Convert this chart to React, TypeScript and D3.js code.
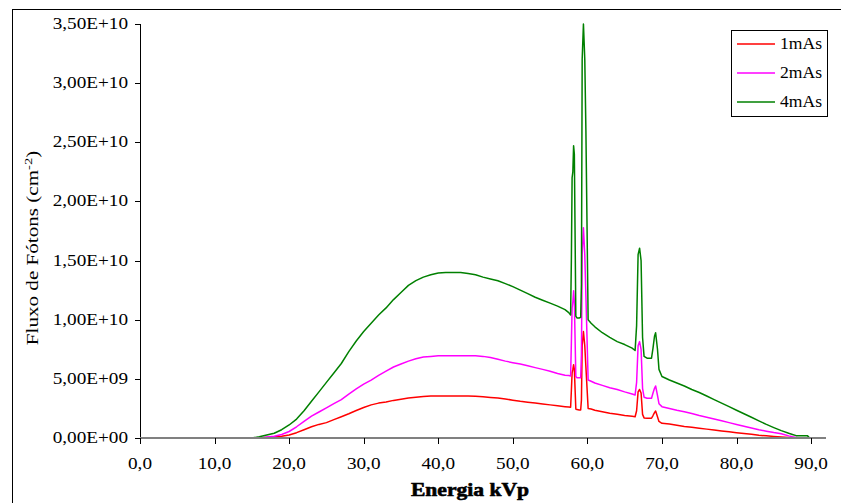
import React from "react";
import * as d3 from "d3";

const energies = [15,16,17,18,19,20,21,22,23,24,25,26,27,28,29,30,31,32,33,34,35,36,37,38,39,40,41,42,43,44,45,46,47,48,49,50,51,52,53,54,55,56,57,
  57.5,57.75,57.85,57.95,58.05,58.15,58.25,58.45,58.6,58.9,
  59.1,59.2,59.3,59.47,59.65,59.8,60.1,60.5,
  61,62,63,64,65,66,
  66.4,66.6,66.8,67.0,67.2,67.4,67.6,
  68,68.6,68.8,69.0,69.15,69.4,69.6,
  70,71,72,73,74,75,76,77,78,79,80,81,82,83,84,85,86,87,
  87.5,88,88.5,89,89.5,89.8];

// values in units of 1E10 photons/cm2
const flux4mAs = [0,0.01,0.025,0.04,0.07,0.11,0.16,0.23,0.31,0.39,0.47,0.55,0.63,0.73,0.82,0.90,0.97,1.04,1.10,1.17,1.23,1.29,1.33,1.36,1.38,1.395,1.40,1.40,1.40,1.39,1.38,1.36,1.345,1.33,1.305,1.28,1.25,1.22,1.19,1.165,1.14,1.115,1.085,
  1.06,1.04,1.5,2.2,2.25,2.47,2.4,1.03,1.015,1.015,
  1.02,1.3,3.2,3.5,3.2,2.6,1.0,0.97,
  0.94,0.89,0.85,0.815,0.79,0.76,
  0.74,0.95,1.55,1.605,1.5,0.85,0.69,
  0.675,0.675,0.76,0.86,0.89,0.75,0.58,
  0.52,0.49,0.465,0.44,0.41,0.385,0.355,0.325,0.295,0.265,0.235,0.205,0.175,0.145,0.115,0.088,0.062,0.04,
  0.03,0.02,0.02,0.02,0.02,0];

const flux2mAs = [null,0,0.008,0.015,0.03,0.055,0.095,0.14,0.185,0.22,0.255,0.29,0.325,0.37,0.415,0.455,0.49,0.53,0.565,0.6,0.625,0.65,0.67,0.685,0.69,0.695,0.695,0.695,0.695,0.695,0.695,0.69,0.68,0.665,0.65,0.637,0.625,0.61,0.595,0.58,0.565,0.545,0.53,
  0.528,0.525,0.8,1.1,1.15,1.245,1.15,0.52,0.51,0.51,
  0.51,0.7,1.55,1.777,1.55,1.2,0.49,0.48,
  0.465,0.445,0.425,0.41,0.39,0.372,
  0.364,0.47,0.78,0.815,0.75,0.42,0.345,
  0.336,0.336,0.38,0.42,0.44,0.36,0.29,
  0.265,0.25,0.235,0.222,0.207,0.19,0.175,0.16,0.145,0.13,0.115,0.1,0.085,0.07,0.058,0.046,0.036,0.018,
  0.01,0.005,0,null,null,null];

const flux1mAs = [null,0,0.004,0.008,0.015,0.025,0.045,0.07,0.095,0.115,0.13,0.155,0.18,0.205,0.232,0.258,0.28,0.295,0.305,0.318,0.328,0.338,0.345,0.35,0.355,0.355,0.355,0.355,0.355,0.355,0.352,0.348,0.343,0.338,0.33,0.32,0.31,0.302,0.295,0.288,0.28,0.272,0.265,
  0.262,0.26,0.4,0.55,0.58,0.62,0.58,0.245,0.24,0.237,
  0.237,0.32,0.78,0.9,0.78,0.6,0.25,0.245,
  0.235,0.222,0.21,0.2,0.19,0.183,
  0.18,0.23,0.39,0.41,0.38,0.2,0.17,
  0.167,0.167,0.19,0.215,0.228,0.18,0.14,
  0.124,0.118,0.108,0.098,0.09,0.083,0.075,0.068,0.06,0.052,0.045,0.038,0.032,0.024,0.018,0.013,0.009,0.005,
  0.002,0,null,null,null,null];

const seriesNames = ["1mAs", "2mAs", "4mAs"];
const seriesColors = ["#FF0000", "#FF00FF", "#008000"];
const seriesValues = [flux1mAs, flux2mAs, flux4mAs];

const xTicks = [0, 10, 20, 30, 40, 50, 60, 70, 80, 90];
const yTicks = [0, 0.5e10, 1e10, 1.5e10, 2e10, 2.5e10, 3e10, 3.5e10];
const yTickLabels = ["0,00E+00", "5,00E+09", "1,00E+10", "1,50E+10", "2,00E+10", "2,50E+10", "3,00E+10", "3,50E+10"];
const xTickLabels = ["0,0", "10,0", "20,0", "30,0", "40,0", "50,0", "60,0", "70,0", "80,0", "90,0"];

const W = 841, H = 503;
const FONT = "'Liberation Serif', 'Times New Roman', serif";
const SX = 1.2;

function SText({ x, y, anchor = "start", size = 16, rotate = 0, sx = SX, weight = "normal", children, stroke }: any) {
  return (
    <text
      transform={`translate(${x},${y})${rotate ? ` rotate(${rotate})` : ""} scale(${sx},1)`}
      textAnchor={anchor}
      fontFamily={FONT}
      fontSize={size}
      fontWeight={weight}
      fill="#000"
      stroke={stroke}
      strokeWidth={stroke ? 0.6 : 0}
    >
      {children}
    </text>
  );
}

export default function App() {
  const x = d3.scaleLinear().domain([0, 92]).range([140, 826]);
  const y = d3.scaleLinear().domain([0, 3.5e10]).range([438, 24]);

  const makeLine = (vals: (number | null)[]) =>
    d3.line<number>()
      .defined((_, i) => vals[i] !== null)
      .x((_, i) => x(energies[i]))
      .y((_, i) => y((vals[i] as number) * 1e10))(energies as any) || "";

  const legendY = [44, 73, 102];

  return (
    <svg width={W} height={H} style={{ position: "absolute", left: 0, top: 0, background: "#fff" }}>
      <rect x={0} y={0} width={W} height={H} fill="#fff" />
      <line x1={12.5} y1={9} x2={12.5} y2={H} stroke="#000" strokeWidth={1} />
      <line x1={12} y1={9.5} x2={W} y2={9.5} stroke="#000" strokeWidth={1} />

      <line x1={140.5} y1={y(3.5e10)} x2={140.5} y2={y(0)} stroke="#000" strokeWidth={1} />
      {yTicks.map((t, i) => (
        <g key={"yt" + i}>
          <line x1={135} x2={140} y1={Math.round(y(t)) + 0.5} y2={Math.round(y(t)) + 0.5} stroke="#000" />
          <SText x={128} y={y(t) + 5} anchor="end">{yTickLabels[i]}</SText>
        </g>
      ))}

      {seriesValues.map((vals, i) => (
        <path key={"s" + i} d={makeLine(vals)} fill="none" stroke={seriesColors[i]} strokeWidth={1.5} strokeLinejoin="round" />
      ))}

      <line x1={140} y1={438} x2={826} y2={438} stroke="#808080" strokeWidth={2} />
      {xTicks.map((t, i) => (
        <g key={"xt" + i}>
          <line x1={Math.round(x(t)) + 0.5} x2={Math.round(x(t)) + 0.5} y1={438} y2={444} stroke="#000" />
          <SText x={x(t)} y={469} anchor="middle">{xTickLabels[i]}</SText>
        </g>
      ))}

      <SText x={470} y={496} anchor="middle" size={18} weight="bold" stroke="#000">Energia kVp</SText>
      <text
        transform={`translate(38,248) rotate(-90) scale(1.32,1)`}
        textAnchor="middle"
        fontFamily={FONT}
        fontSize={16}
        fill="#000"
      >
        Fluxo de Fótons (cm<tspan fontSize={11} dy={-6}>-2</tspan><tspan dy={6}>)</tspan>
      </text>

      <rect x={731.5} y={30.5} width={96} height={86} fill="#fff" stroke="#000" strokeWidth={1} />
      {seriesNames.map((n, i) => (
        <g key={"lg" + i}>
          <line x1={737} x2={775} y1={legendY[i]} y2={legendY[i]} stroke={seriesColors[i]} strokeWidth={1.5} />
          <SText x={780} y={legendY[i] + 5} size={16} sx={1.1}>{n}</SText>
        </g>
      ))}
    </svg>
  );
}
